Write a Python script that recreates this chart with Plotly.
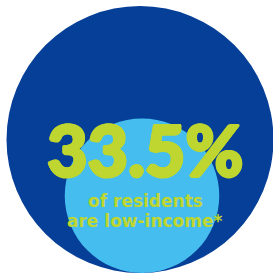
import math
import plotly.graph_objects as go

# Data
share_label = "33.5%"
share_value = [33.5]          # percent of residents who are low-income
total_value = [100.0]         # all residents
caption_lines = ["of residents", "are low-income*"]

# Style
W, H = 273, 278
DARK = "#063f98"
LIGHT = "#45bdee"
LIME = "#bed62f"

# geometry (pixel-like data units)
big_r = 133.5
big_cx, big_cy = 140.0, 139.5
small_r = big_r * math.sqrt(share_value[0] / total_value[0])
small_cx = 142.0
small_cy = big_cy + big_r - small_r  # bottom aligned

fig = go.Figure()
fig.add_shape(type="circle", xref="x", yref="y",
              x0=big_cx - big_r, x1=big_cx + big_r,
              y0=big_cy - big_r, y1=big_cy + big_r,
              fillcolor=DARK, line=dict(width=0), layer="below")
fig.add_shape(type="circle", xref="x", yref="y",
              x0=small_cx - small_r, x1=small_cx + small_r,
              y0=small_cy - small_r, y1=small_cy + small_r,
              fillcolor=LIGHT, line=dict(width=0), layer="below")

thick = ",".join(f"{dx}px {dy}px 0 {LIME}" for dx, dy in
                 [(1.5, 0), (-1.5, 0), (0, 1.5), (0, -1.5), (1, 1), (-1, -1), (1, -1), (-1, 1)])
fig.add_annotation(x=145, y=148.5, xref="x", yref="y", text=share_label,
                   showarrow=False, xanchor="center", yanchor="middle",
                   font=dict(family="Lato", size=70, color=LIME, weight=900, shadow=thick))
for i, line in enumerate(caption_lines):
    fig.add_annotation(x=145, y=201 + 20 * i, xref="x", yref="y", text=line,
                       showarrow=False, xanchor="center", yanchor="middle",
                       font=dict(family="DejaVu Sans", size=17, color=LIME, weight="bold"))

fig.update_xaxes(range=[0, W], visible=False, fixedrange=True)
fig.update_yaxes(range=[H, 0], visible=False, fixedrange=True)
fig.update_layout(width=W, height=H, margin=dict(l=0, r=0, t=0, b=0),
                  paper_bgcolor="white", plot_bgcolor="white", showlegend=False)

fig.write_html("out.html", post_script="document.body.style.margin='0';",
               config={"displayModeBar": False})
